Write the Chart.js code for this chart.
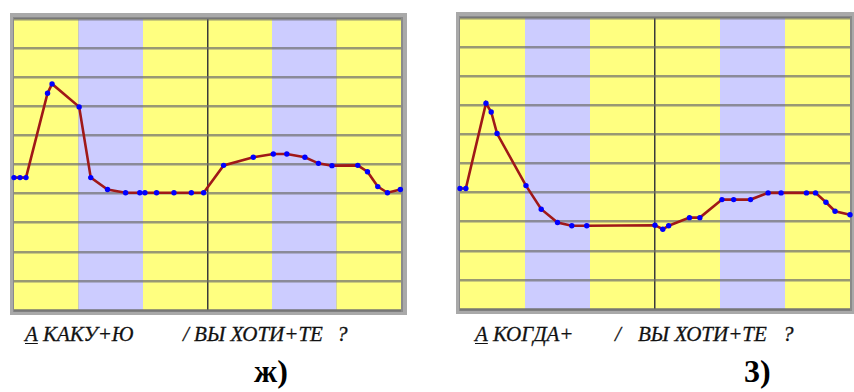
<!DOCTYPE html>
<html>
<head>
<meta charset="utf-8">
<script src="https://cdn.jsdelivr.net/npm/chart.js@4/dist/chart.umd.min.js"></script>
<style>
  body { margin: 0; width: 854px; height: 392px; background: #fff; position: relative; overflow: hidden; }
  canvas { position: absolute; }
  .cap { position: absolute; font-family: "Times New Roman", "Liberation Serif", serif; font-style: italic; font-size: 21px; line-height: 1; white-space: pre; color: #111; -webkit-text-stroke: 0.3px #111; }
  .lbl { position: absolute; font-family: "Times New Roman", "Liberation Serif", serif; font-weight: bold; font-size: 32px; line-height: 1; color: #000; }
  u { text-decoration-thickness: 1px; text-underline-offset: 2px; }
</style>
</head>
<body>
<canvas id="chartJ"></canvas>
<canvas id="chartZ"></canvas>

<div class="cap" style="left:25px;top:324px"><u>А</u> КАКУ+Ю</div>
<div class="cap" style="left:183px;top:324px">/ ВЫ ХОТИ+ТЕ</div>
<div class="cap" style="left:337px;top:324px">?</div>
<div class="cap" style="left:475px;top:324px"><u>А</u> КОГДА+</div>
<div class="cap" style="left:615px;top:324px">/</div>
<div class="cap" style="left:638px;top:324px">ВЫ ХОТИ+ТЕ</div>
<div class="cap" style="left:783px;top:324px">?</div>
<div class="lbl" style="left:254px;top:355px">ж)</div>
<div class="lbl" style="left:744px;top:355px">3)</div>

<script>
// time axis 0..60, six bands of 10; y axis 0..10
const bandEdges = [0, 10, 20, 30, 40, 50, 60];
const bandColors = ['#ffff80', '#ccccff', '#ffff80', '#ffff80', '#ccccff', '#ffff80'];

// ж) А КАКУ+Ю / ВЫ ХОТИ+ТЕ ?
const xJ = [0, 0.93, 1.86, 5.2, 5.9, 10.1, 11.9, 14.5, 17.3, 19.5, 20.3, 22.1, 24.8, 27.5, 29.4,
  32.5, 37.1, 40.2, 42.3, 45.1, 47.2, 49.3, 53.3, 54.8, 56.4, 57.9, 59.9];
const yJ = [4.55, 4.55, 4.55, 7.45, 7.77, 6.98, 4.55, 4.14, 4.03, 4.03, 4.03, 4.03, 4.03, 4.03, 4.03,
  4.97, 5.25, 5.36, 5.36, 5.25, 5.04, 4.96, 4.97, 4.75, 4.24, 4.03, 4.14];

// з) А КОГДА+ / ВЫ ХОТИ+ТЕ ?
const xZ = [0, 0.9, 4.0, 4.8, 5.7, 10.15, 12.5, 15.0, 17.2, 19.5, 30.0, 31.2, 32.1, 35.3, 36.9,
  40.3, 42.1, 44.7, 47.4, 49.4, 53.3, 54.7, 56.3, 57.7, 60];
const yZ = [4.14, 4.14, 7.07, 6.77, 6.03, 4.24, 3.43, 2.97, 2.86, 2.86, 2.88, 2.74, 2.86, 3.14, 3.14,
  3.76, 3.76, 3.76, 3.99, 3.99, 3.99, 3.99, 3.67, 3.36, 3.24];

const bandsPlugin = {
  id: 'bands',
  beforeDraw(chart) {
    const { ctx, chartArea: a, scales: { x } } = chart;
    ctx.save();
    // grey frame with a heavier right/bottom edge
    ctx.fillStyle = '#a9a9a9';
    ctx.fillRect(a.left - 4, a.top - 6, a.width + 10, a.height + 11);
    ctx.fillStyle = '#8a8a8a';
    ctx.fillRect(a.left - 1, a.top - 2, a.width + 3, a.height + 4);
    for (let i = 0; i < bandColors.length; i++) {
      const l = x.getPixelForValue(bandEdges[i]);
      const r = x.getPixelForValue(bandEdges[i + 1]);
      ctx.fillStyle = bandColors[i];
      ctx.fillRect(l, a.top, r - l, a.height);
    }
    ctx.restore();
  }
};

function makeChart(id, xs, ys, pad) {
  const el = document.getElementById(id);
  return new Chart(el, {
    type: 'line',
    data: {
      datasets: [{
        data: xs.map((v, i) => ({ x: v, y: ys[i] })),
        borderColor: '#a01818',
        borderWidth: 2.6,
        pointRadius: 2.7,
        pointBackgroundColor: '#0000ff',
        pointBorderWidth: 0,
        tension: 0,
        clip: false,
      }],
    },
    options: {
      responsive: false,
      animation: false,
      events: [],
      layout: { padding: pad },
      plugins: { legend: { display: false }, tooltip: { enabled: false } },
      scales: {
        x: {
          type: 'linear', min: 0, max: 60,
          ticks: { display: false, stepSize: 10 },
          border: { display: false },
          grid: {
            drawTicks: false,
            lineWidth: 1.5,
            color: (c) => (c.tick && c.tick.value === 30 ? '#3a3a3a' : 'rgba(0,0,0,0)'),
          },
        },
        y: {
          min: 0, max: 10,
          ticks: { display: false, stepSize: 1 },
          border: { display: false },
          grid: { drawTicks: false, lineWidth: 2.5, color: 'rgba(110,110,110,0.7)' },
        },
      },
    },
    plugins: [bandsPlugin],
  });
}

function place(id, left, top, w, h) {
  const el = document.getElementById(id);
  el.width = w; el.height = h;
  el.style.left = left + 'px'; el.style.top = top + 'px';
  el.style.width = w + 'px'; el.style.height = h + 'px';
}

place('chartJ', 10, 13, 397, 302);
place('chartZ', 456, 12, 398, 302);
makeChart('chartJ', xJ, yJ, { left: 4, top: 6, right: 6, bottom: 5 });
makeChart('chartZ', xZ, yZ, { left: 4, top: 6, right: 4, bottom: 5 });
</script>
</body>
</html>
